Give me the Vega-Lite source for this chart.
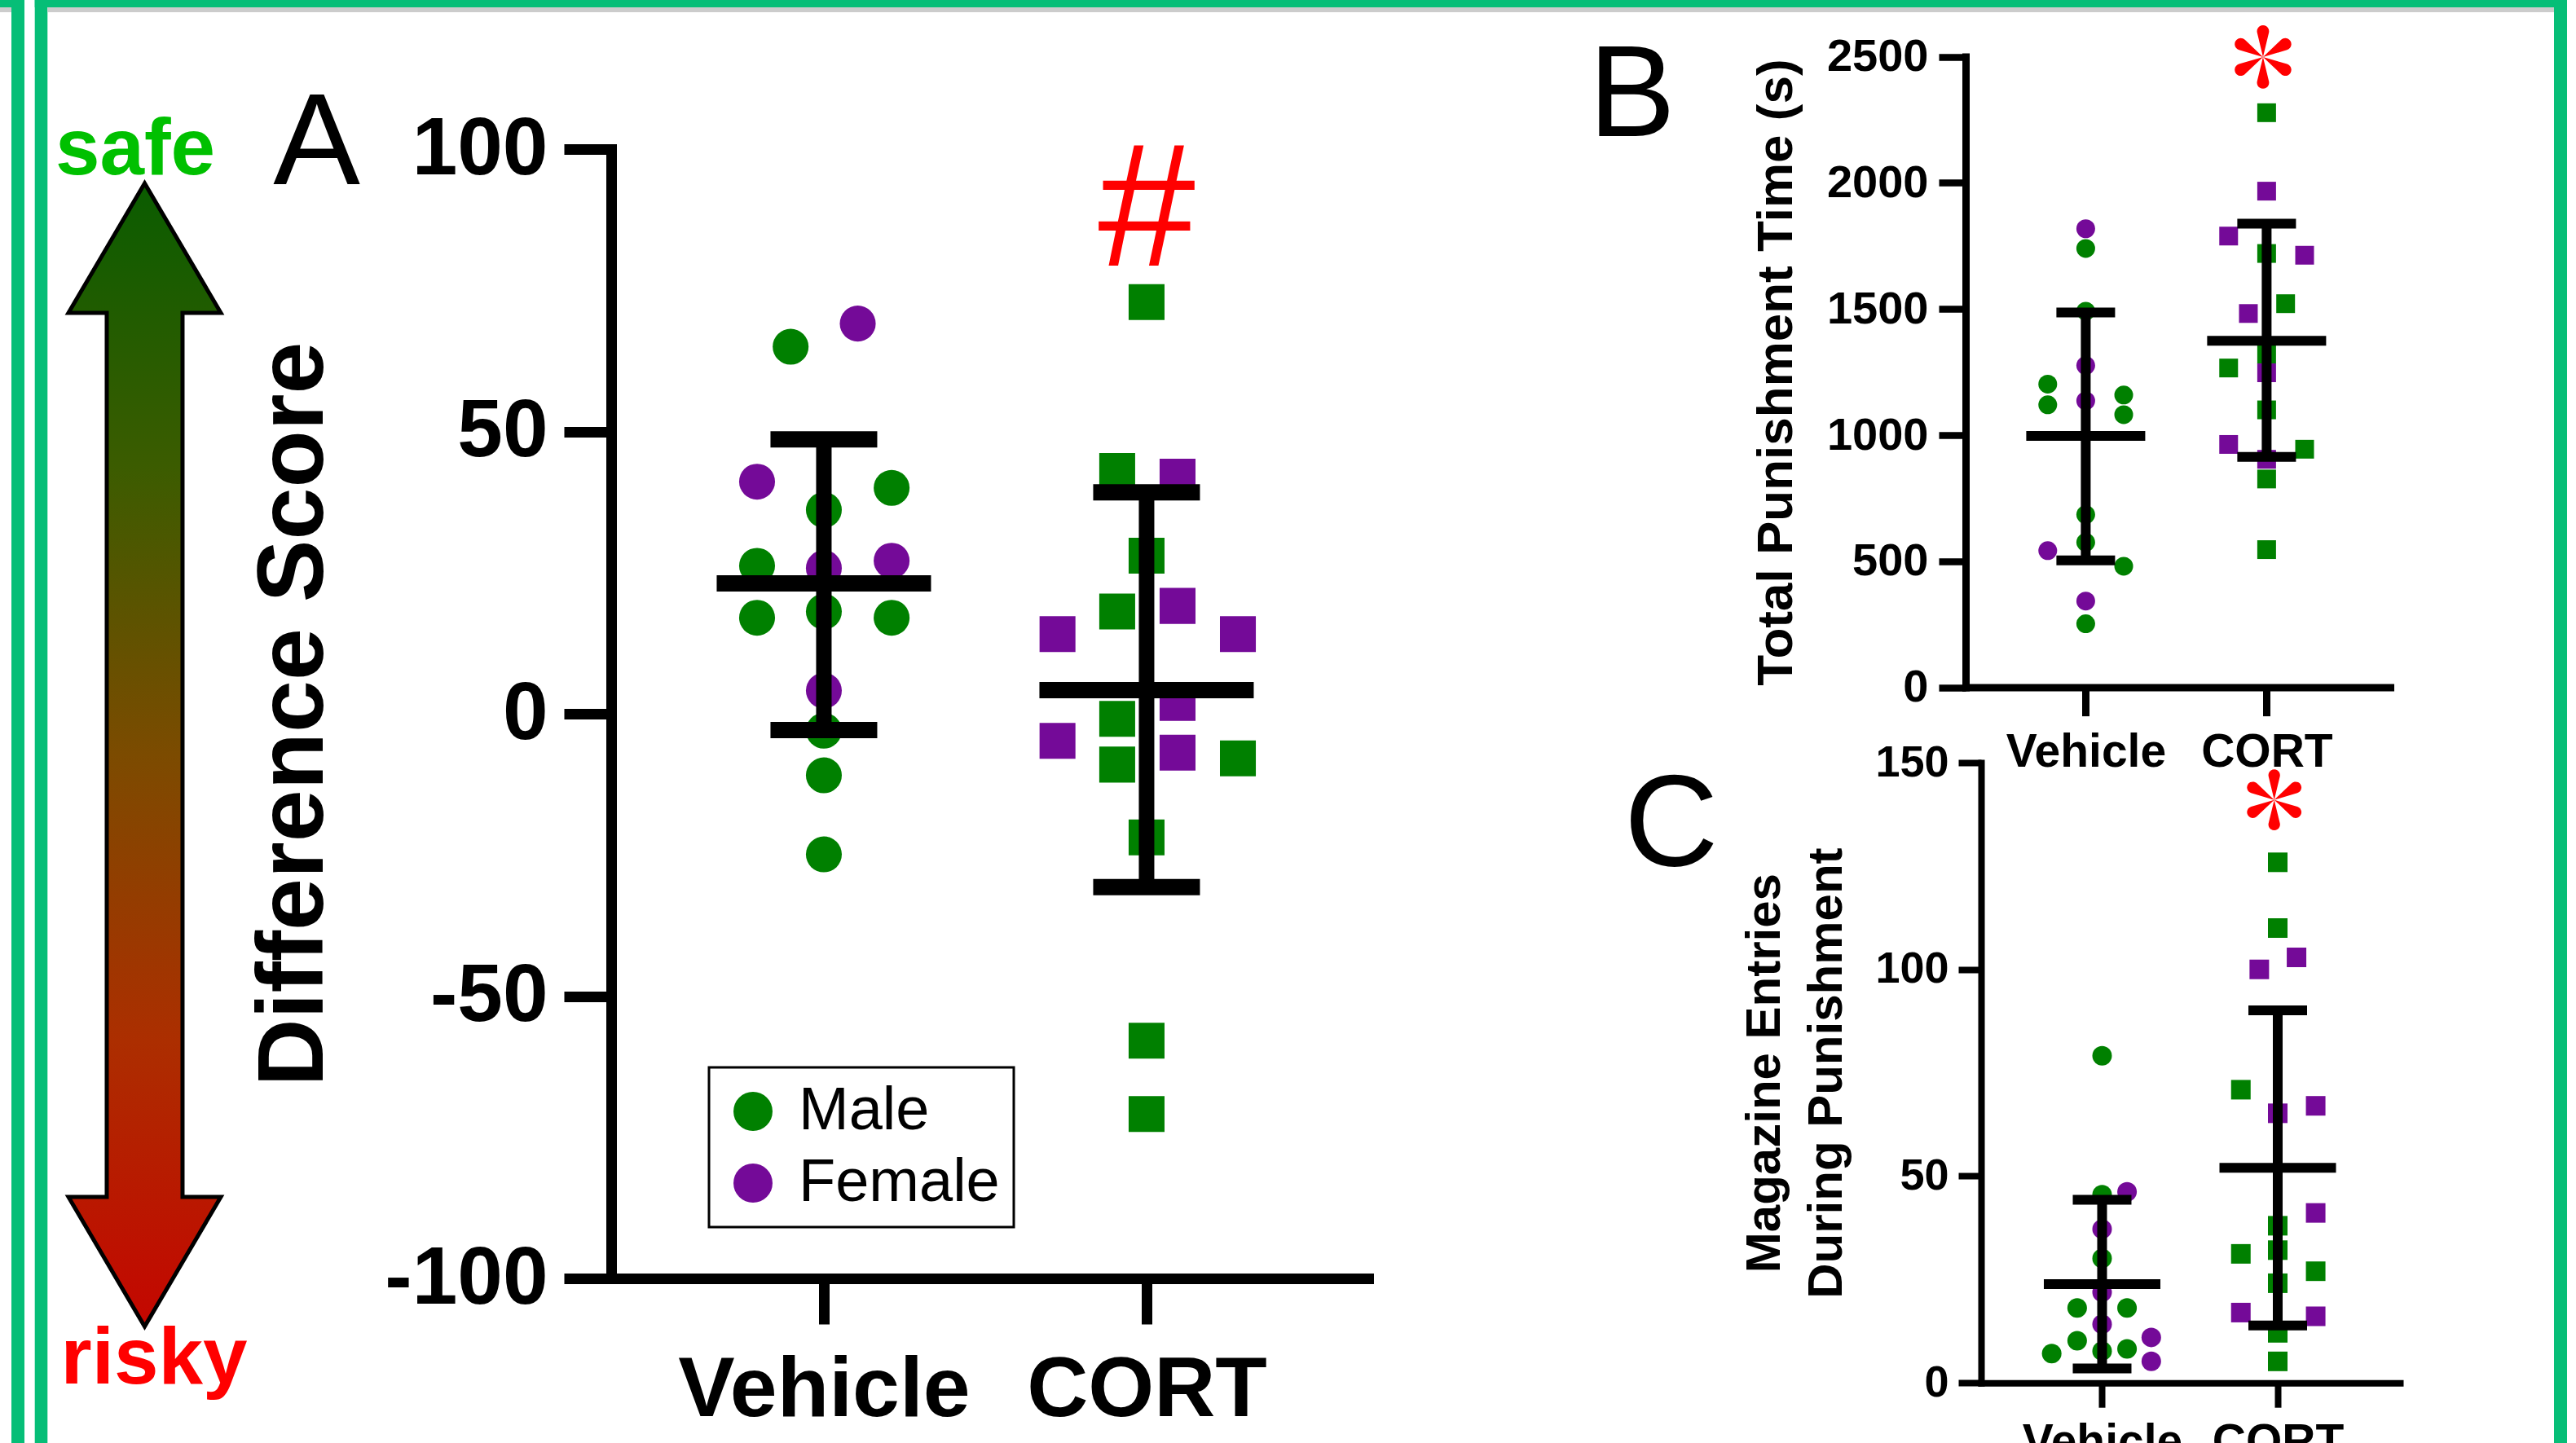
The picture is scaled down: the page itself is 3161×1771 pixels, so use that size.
{
  "$schema": "https://vega.github.io/schema/vega-lite/v6.json",
  "width": 3161,
  "height": 1771,
  "autosize": {"type": "none"},
  "padding": 0,
  "background": "white",
  "config": {
    "view": {"stroke": null},
    "axis": {"grid": false, "labelFont": "Liberation Sans", "titleFont": "Liberation Sans", "labelColor": "black", "titleColor": "black", "tickColor": "black", "domainColor": "black", "labelFlush": false, "labelOverlap": false, "labelLimit": 2000, "titleLimit": 3000, "maxExtent": 2000, "domainCap": "square"},
    "legend": {"strokeWidth": 3, "labelLimit": 2000},
    "text": {"font": "Liberation Sans"}
  },
  "datasets": {
    "pts": [
      {"panel": "A", "group": "Vehicle", "sex": "Male", "x": 0.897, "value": 65.0},
      {"panel": "A", "group": "Vehicle", "sex": "Female", "x": 1.105, "value": 69.1},
      {"panel": "A", "group": "Vehicle", "sex": "Female", "x": 0.793, "value": 41.1},
      {"panel": "A", "group": "Vehicle", "sex": "Male", "x": 1.21, "value": 40.0},
      {"panel": "A", "group": "Vehicle", "sex": "Male", "x": 1.0, "value": 36.1},
      {"panel": "A", "group": "Vehicle", "sex": "Male", "x": 0.793, "value": 26.2},
      {"panel": "A", "group": "Vehicle", "sex": "Female", "x": 1.0, "value": 25.8},
      {"panel": "A", "group": "Vehicle", "sex": "Female", "x": 1.21, "value": 27.1},
      {"panel": "A", "group": "Vehicle", "sex": "Male", "x": 0.793, "value": 17.0},
      {"panel": "A", "group": "Vehicle", "sex": "Male", "x": 1.0, "value": 18.1},
      {"panel": "A", "group": "Vehicle", "sex": "Male", "x": 1.21, "value": 17.0},
      {"panel": "A", "group": "Vehicle", "sex": "Female", "x": 1.0, "value": 4.1},
      {"panel": "A", "group": "Vehicle", "sex": "Male", "x": 1.0, "value": -3.0},
      {"panel": "A", "group": "Vehicle", "sex": "Male", "x": 1.0, "value": -10.9},
      {"panel": "A", "group": "Vehicle", "sex": "Male", "x": 1.0, "value": -24.9},
      {"panel": "A", "group": "CORT", "sex": "Male", "x": 2.0, "value": 72.9},
      {"panel": "A", "group": "CORT", "sex": "Male", "x": 1.909, "value": 43.0},
      {"panel": "A", "group": "CORT", "sex": "Female", "x": 2.096, "value": 42.0},
      {"panel": "A", "group": "CORT", "sex": "Male", "x": 2.0, "value": 28.0},
      {"panel": "A", "group": "CORT", "sex": "Male", "x": 1.909, "value": 18.1},
      {"panel": "A", "group": "CORT", "sex": "Female", "x": 2.096, "value": 19.1},
      {"panel": "A", "group": "CORT", "sex": "Female", "x": 1.724, "value": 14.1},
      {"panel": "A", "group": "CORT", "sex": "Female", "x": 2.283, "value": 14.1},
      {"panel": "A", "group": "CORT", "sex": "Male", "x": 1.909, "value": -0.9},
      {"panel": "A", "group": "CORT", "sex": "Female", "x": 2.096, "value": 1.9},
      {"panel": "A", "group": "CORT", "sex": "Female", "x": 1.724, "value": -4.8},
      {"panel": "A", "group": "CORT", "sex": "Male", "x": 1.909, "value": -9.0},
      {"panel": "A", "group": "CORT", "sex": "Female", "x": 2.096, "value": -6.9},
      {"panel": "A", "group": "CORT", "sex": "Male", "x": 2.283, "value": -7.9},
      {"panel": "A", "group": "CORT", "sex": "Male", "x": 2.0, "value": -21.9},
      {"panel": "A", "group": "CORT", "sex": "Male", "x": 2.0, "value": -57.9},
      {"panel": "A", "group": "CORT", "sex": "Male", "x": 2.0, "value": -70.9},

      {"panel": "B", "group": "Vehicle", "sex": "Female", "x": 1.0, "value": 1818},
      {"panel": "B", "group": "Vehicle", "sex": "Male", "x": 1.0, "value": 1740},
      {"panel": "B", "group": "Vehicle", "sex": "Male", "x": 1.0, "value": 1491},
      {"panel": "B", "group": "Vehicle", "sex": "Female", "x": 1.0, "value": 1276},
      {"panel": "B", "group": "Vehicle", "sex": "Male", "x": 0.79, "value": 1202},
      {"panel": "B", "group": "Vehicle", "sex": "Male", "x": 0.79, "value": 1120},
      {"panel": "B", "group": "Vehicle", "sex": "Female", "x": 1.0, "value": 1136},
      {"panel": "B", "group": "Vehicle", "sex": "Male", "x": 1.21, "value": 1159},
      {"panel": "B", "group": "Vehicle", "sex": "Male", "x": 1.21, "value": 1081},
      {"panel": "B", "group": "Vehicle", "sex": "Male", "x": 1.0, "value": 685},
      {"panel": "B", "group": "Vehicle", "sex": "Male", "x": 1.0, "value": 575},
      {"panel": "B", "group": "Vehicle", "sex": "Female", "x": 0.79, "value": 542},
      {"panel": "B", "group": "Vehicle", "sex": "Male", "x": 1.21, "value": 480},
      {"panel": "B", "group": "Vehicle", "sex": "Female", "x": 1.0, "value": 342},
      {"panel": "B", "group": "Vehicle", "sex": "Male", "x": 1.0, "value": 252},
      {"panel": "B", "group": "CORT", "sex": "Male", "x": 2.0, "value": 2278},
      {"panel": "B", "group": "CORT", "sex": "Female", "x": 2.0, "value": 1967},
      {"panel": "B", "group": "CORT", "sex": "Female", "x": 1.79, "value": 1789},
      {"panel": "B", "group": "CORT", "sex": "Male", "x": 2.0, "value": 1720},
      {"panel": "B", "group": "CORT", "sex": "Female", "x": 2.21, "value": 1713},
      {"panel": "B", "group": "CORT", "sex": "Male", "x": 2.105, "value": 1521},
      {"panel": "B", "group": "CORT", "sex": "Female", "x": 1.899, "value": 1482},
      {"panel": "B", "group": "CORT", "sex": "Male", "x": 2.0, "value": 1320},
      {"panel": "B", "group": "CORT", "sex": "Male", "x": 1.79, "value": 1266},
      {"panel": "B", "group": "CORT", "sex": "Female", "x": 2.0, "value": 1247},
      {"panel": "B", "group": "CORT", "sex": "Male", "x": 2.0, "value": 1100},
      {"panel": "B", "group": "CORT", "sex": "Female", "x": 1.79, "value": 963},
      {"panel": "B", "group": "CORT", "sex": "Male", "x": 2.21, "value": 944},
      {"panel": "B", "group": "CORT", "sex": "Female", "x": 2.0, "value": 904},
      {"panel": "B", "group": "CORT", "sex": "Male", "x": 2.0, "value": 826},
      {"panel": "B", "group": "CORT", "sex": "Male", "x": 2.0, "value": 546},

      {"panel": "C", "group": "Vehicle", "sex": "Male", "x": 1.0, "value": 79.1},
      {"panel": "C", "group": "Vehicle", "sex": "Male", "x": 1.0, "value": 45.5},
      {"panel": "C", "group": "Vehicle", "sex": "Female", "x": 1.142, "value": 46.2},
      {"panel": "C", "group": "Vehicle", "sex": "Female", "x": 1.0, "value": 37.2},
      {"panel": "C", "group": "Vehicle", "sex": "Male", "x": 1.0, "value": 30.1},
      {"panel": "C", "group": "Vehicle", "sex": "Female", "x": 1.0, "value": 21.9},
      {"panel": "C", "group": "Vehicle", "sex": "Male", "x": 0.858, "value": 18.1},
      {"panel": "C", "group": "Vehicle", "sex": "Male", "x": 1.142, "value": 18.1},
      {"panel": "C", "group": "Vehicle", "sex": "Female", "x": 1.0, "value": 14.2},
      {"panel": "C", "group": "Vehicle", "sex": "Male", "x": 0.858, "value": 10.2},
      {"panel": "C", "group": "Vehicle", "sex": "Female", "x": 1.28, "value": 11.0},
      {"panel": "C", "group": "Vehicle", "sex": "Male", "x": 0.713, "value": 7.1},
      {"panel": "C", "group": "Vehicle", "sex": "Male", "x": 1.0, "value": 7.7},
      {"panel": "C", "group": "Vehicle", "sex": "Male", "x": 1.142, "value": 8.2},
      {"panel": "C", "group": "Vehicle", "sex": "Female", "x": 1.28, "value": 5.2},
      {"panel": "C", "group": "CORT", "sex": "Male", "x": 2.0, "value": 125.9},
      {"panel": "C", "group": "CORT", "sex": "Male", "x": 2.0, "value": 110.0},
      {"panel": "C", "group": "CORT", "sex": "Female", "x": 2.107, "value": 102.9},
      {"panel": "C", "group": "CORT", "sex": "Female", "x": 1.895, "value": 100.0},
      {"panel": "C", "group": "CORT", "sex": "Male", "x": 1.79, "value": 70.9},
      {"panel": "C", "group": "CORT", "sex": "Female", "x": 2.216, "value": 67.0},
      {"panel": "C", "group": "CORT", "sex": "Female", "x": 2.0, "value": 65.2},
      {"panel": "C", "group": "CORT", "sex": "Female", "x": 2.216, "value": 41.1},
      {"panel": "C", "group": "CORT", "sex": "Male", "x": 2.0, "value": 38.0},
      {"panel": "C", "group": "CORT", "sex": "Male", "x": 1.79, "value": 31.2},
      {"panel": "C", "group": "CORT", "sex": "Male", "x": 2.0, "value": 32.1},
      {"panel": "C", "group": "CORT", "sex": "Male", "x": 2.216, "value": 27.0},
      {"panel": "C", "group": "CORT", "sex": "Male", "x": 2.0, "value": 24.1},
      {"panel": "C", "group": "CORT", "sex": "Female", "x": 1.79, "value": 17.0},
      {"panel": "C", "group": "CORT", "sex": "Female", "x": 2.216, "value": 16.1},
      {"panel": "C", "group": "CORT", "sex": "Male", "x": 2.0, "value": 12.1},
      {"panel": "C", "group": "CORT", "sex": "Male", "x": 2.0, "value": 5.2}
    ],
    "summ": [
      {"panel": "A", "group": "Vehicle", "gx": 1, "mean": 23.1, "lo": -2.9, "hi": 48.6},
      {"panel": "A", "group": "CORT", "gx": 2, "mean": 4.2, "lo": -30.7, "hi": 39.2},
      {"panel": "B", "group": "Vehicle", "gx": 1, "mean": 997, "lo": 503, "hi": 1486},
      {"panel": "B", "group": "CORT", "gx": 2, "mean": 1374, "lo": 914, "hi": 1838},
      {"panel": "C", "group": "Vehicle", "gx": 1, "mean": 23.9, "lo": 3.5, "hi": 44.3},
      {"panel": "C", "group": "CORT", "gx": 2, "mean": 52.0, "lo": 13.9, "hi": 90.1}
    ],
    "sig": [
      {"panel": "A", "gx": 2, "y": 79.4, "label": "#"},
      {"panel": "B", "gx": 1.98, "y": 2499, "label": "*"},
      {"panel": "C", "gx": 1.98, "y": 141.0, "label": "*"}
    ],
    "deco": [
      {"kind": "frame", "x": 0.443, "x2": 0.949, "y": 0, "y2": 100},
      {"kind": "frame", "x": 1.351, "x2": 1.844, "y": 0, "y2": 100},
      {"kind": "frame", "x": 99.146, "x2": 99.652, "y": 0, "y2": 100},
      {"kind": "frame", "x": 1.351, "x2": 99.652, "y": 0, "y2": 0.508},
      {"kind": "frame", "x": 0, "x2": 0.443, "y": 0, "y2": 0.508},
      {"kind": "shadow", "x": 1.844, "x2": 99.146, "y": 0.508, "y2": 0.847},
      {"kind": "shadow", "x": 0, "x2": 0.443, "y": 0.508, "y2": 0.847},
      {"kind": "arrow", "y": 12.705, "x": 5.615, "x2": 5.615},
      {"kind": "arrow", "y": 21.683, "x": 2.657, "x2": 8.573},
      {"kind": "arrow", "y": 21.684, "x": 4.144, "x2": 7.086},
      {"kind": "arrow", "y": 82.947, "x": 4.144, "x2": 7.086},
      {"kind": "arrow", "y": 82.948, "x": 2.657, "x2": 8.573},
      {"kind": "arrow", "y": 91.926, "x": 5.615, "x2": 5.615},
      {"kind": "safe", "x": 5.252, "y": 12.084, "label": "safe"},
      {"kind": "risky", "x": 5.979, "y": 95.878, "label": "risky"},
      {"kind": "letter", "x": 12.29, "y": 12.76, "label": "A"},
      {"kind": "letter", "x": 63.35, "y": 9.41, "label": "B"},
      {"kind": "letter", "x": 64.88, "y": 59.97, "label": "C"}
    ]
  },
  "resolve": {"scale": {"x": "independent", "y": "independent"}, "axis": {"x": "independent", "y": "independent"}},
  "layer": [
    {
      "data": {"name": "deco"},
      "layer": [
        {
          "transform": [{"filter": "datum.kind == 'frame'"}],
          "mark": {"type": "rect", "color": "#06BE77"},
          "encoding": {
            "x": {"field": "x", "type": "quantitative", "scale": {"domain": [0, 100], "range": [0, 3161], "nice": false, "zero": false}, "axis": null},
            "x2": {"field": "x2"},
            "y": {"field": "y", "type": "quantitative", "scale": {"domain": [0, 100], "range": [0, 1771], "nice": false, "zero": false}, "axis": null},
            "y2": {"field": "y2"}
          }
        },
        {
          "transform": [{"filter": "datum.kind == 'shadow'"}],
          "mark": {"type": "rect", "color": "#cccccc"},
          "encoding": {
            "x": {"field": "x", "type": "quantitative", "axis": null},
            "x2": {"field": "x2"},
            "y": {"field": "y", "type": "quantitative", "axis": null},
            "y2": {"field": "y2"}
          }
        },
        {
          "transform": [{"filter": "datum.kind == 'arrow'"}],
          "mark": {
            "type": "area", "orient": "horizontal", "interpolate": "linear", "stroke": "black", "strokeWidth": 5, "strokeJoin": "miter",
            "fill": {"gradient": "linear", "x1": 0, "y1": 0, "x2": 0, "y2": 1, "stops": [
              {"offset": 0, "color": "#0a5c00"},
              {"offset": 0.25, "color": "#3c5c00"},
              {"offset": 0.5, "color": "#7c4b00"},
              {"offset": 0.75, "color": "#ac2e00"},
              {"offset": 1, "color": "#c40600"}
            ]}
          },
          "encoding": {
            "y": {"field": "y", "type": "quantitative", "axis": null},
            "x": {"field": "x", "type": "quantitative", "axis": null, "stack": null},
            "x2": {"field": "x2"}
          }
        },
        {
          "transform": [{"filter": "datum.kind == 'safe'"}],
          "mark": {"type": "text", "color": "#00C000", "fontSize": 98, "fontWeight": "bold", "align": "center", "baseline": "alphabetic"},
          "encoding": {
            "x": {"field": "x", "type": "quantitative", "axis": null},
            "y": {"field": "y", "type": "quantitative", "axis": null},
            "text": {"field": "label"}
          }
        },
        {
          "transform": [{"filter": "datum.kind == 'risky'"}],
          "mark": {"type": "text", "color": "#FF0000", "fontSize": 98, "fontWeight": "bold", "align": "center", "baseline": "alphabetic"},
          "encoding": {
            "x": {"field": "x", "type": "quantitative", "axis": null},
            "y": {"field": "y", "type": "quantitative", "axis": null},
            "text": {"field": "label"}
          }
        },
        {
          "transform": [{"filter": "datum.kind == 'letter'"}],
          "mark": {"type": "text", "color": "black", "fontSize": 160, "fontWeight": "normal", "align": "center", "baseline": "alphabetic"},
          "encoding": {
            "x": {"field": "x", "type": "quantitative", "axis": null},
            "y": {"field": "y", "type": "quantitative", "axis": null},
            "text": {"field": "label"}
          }
        }
      ]
    },
    {
      "layer": [
        {
          "mark": {"type": "rule", "color": "black", "strokeWidth": 12.5, "strokeDash": [0.01, 41.5], "strokeCap": "round"},
          "encoding": {
            "x": {"datum": 0.4445, "type": "quantitative"},
            "x2": {"datum": 2.6466},
            "y": {"datum": 0, "type": "quantitative"}
          }
        },
        {
          "data": {"name": "pts"},
          "transform": [{"filter": "datum.panel == 'A'"}],
          "mark": {"type": "point", "filled": true, "opacity": 1, "size": 1940, "strokeWidth": 0},
          "encoding": {
            "x": {"field": "x", "type": "quantitative",
              "scale": {"domain": [0.341, 2.687], "range": [750, 1679], "nice": false, "zero": false},
              "axis": {"orient": "bottom", "offset": -202, "values": [1, 2], "labelExpr": "datum.value == 1 ? 'Vehicle' : 'CORT'", "labelFontSize": 104, "labelFontWeight": "bold", "labelPadding": 30, "tickSize": 56, "tickWidth": 13, "domainWidth": 13, "title": null}},
            "y": {"field": "value", "type": "quantitative",
              "scale": {"domain": [-100, 100], "range": [1569, 183], "nice": false, "zero": false},
              "axis": {"orient": "left", "offset": -750, "values": [-100, -50, 0, 50, 100], "labelExpr": "datum.value < 0 ? '-' + (-datum.value) : '' + datum.value", "labelFontSize": 100, "labelFontWeight": "bold", "labelPadding": 20, "tickSize": 58, "tickWidth": 13, "domainWidth": 13, "title": "Difference Score", "titleFontSize": 115, "titleFontWeight": "bold", "titlePadding": 52}},
            "color": {"field": "sex", "type": "nominal", "scale": {"domain": ["Male", "Female"], "range": ["#008000", "#740A98"]},
              "legend": {"orient": "none", "legendX": 870, "legendY": 1310, "title": null, "symbolType": "circle", "symbolSize": 2300, "symbolStrokeWidth": 0, "labelFont": "Liberation Sans", "labelFontSize": 74, "labelColor": "black", "labelOffset": 19, "labelLimit": 2000, "padding": 17, "rowPadding": 14, "strokeColor": "black"}},
            "shape": {"field": "group", "type": "nominal", "scale": {"domain": ["Vehicle", "CORT"], "range": ["circle", "square"]}, "legend": null}
          }
        },
        {
          "data": {"name": "summ"},
          "transform": [{"filter": "datum.panel == 'A'"}],
          "mark": {"type": "rule", "color": "black", "strokeWidth": 19},
          "encoding": {
            "x": {"field": "gx", "type": "quantitative"},
            "y": {"field": "lo", "type": "quantitative"},
            "y2": {"field": "hi"}
          }
        },
        {
          "data": {"name": "summ"},
          "transform": [{"filter": "datum.panel == 'A'"}],
          "mark": {"type": "tick", "orient": "horizontal", "color": "black", "opacity": 1, "size": 263, "thickness": 20},
          "encoding": {
            "x": {"field": "gx", "type": "quantitative"},
            "y": {"field": "mean", "type": "quantitative"}
          }
        },
        {
          "data": {"name": "summ"},
          "transform": [{"filter": "datum.panel == 'A'"}],
          "mark": {"type": "tick", "orient": "horizontal", "color": "black", "opacity": 1, "size": 131, "thickness": 20},
          "encoding": {
            "x": {"field": "gx", "type": "quantitative"},
            "y": {"field": "hi", "type": "quantitative"}
          }
        },
        {
          "data": {"name": "summ"},
          "transform": [{"filter": "datum.panel == 'A'"}],
          "mark": {"type": "tick", "orient": "horizontal", "color": "black", "opacity": 1, "size": 131, "thickness": 20},
          "encoding": {
            "x": {"field": "gx", "type": "quantitative"},
            "y": {"field": "lo", "type": "quantitative"}
          }
        },
        {
          "data": {"name": "sig"},
          "transform": [{"filter": "datum.panel == 'A'"}],
          "mark": {"type": "text", "color": "#FF0000", "font": "Liberation Sans", "fontSize": 215, "align": "center", "baseline": "alphabetic"},
          "encoding": {
            "x": {"field": "gx", "type": "quantitative"},
            "y": {"field": "y", "type": "quantitative"},
            "text": {"field": "label"}
          }
        }
      ]
    },
    {
      "layer": [
        {
          "data": {"name": "pts"},
          "transform": [{"filter": "datum.panel == 'B'"}],
          "mark": {"type": "point", "filled": true, "opacity": 1, "size": 529, "strokeWidth": 0},
          "encoding": {
            "x": {"field": "x", "type": "quantitative",
              "scale": {"domain": [0.336, 2.683], "range": [2412, 2933], "nice": false, "zero": false},
              "axis": {"orient": "bottom", "offset": -927.4, "values": [1, 2], "labelExpr": "datum.value == 1 ? 'Vehicle' : 'CORT'", "labelFontSize": 57, "labelFontWeight": "bold", "labelPadding": 17, "tickSize": 35, "tickWidth": 9, "domainWidth": 9, "title": null}},
            "y": {"field": "value", "type": "quantitative",
              "scale": {"domain": [0, 2500], "range": [843.6, 69.6], "nice": false, "zero": false},
              "axis": {"orient": "left", "offset": -2412, "values": [0, 500, 1000, 1500, 2000, 2500], "format": "d", "labelFontSize": 56, "labelFontWeight": "bold", "labelPadding": 13, "tickSize": 33, "tickWidth": 8.5, "domainWidth": 9, "title": "Total Punishment Time (s)", "titleFontSize": 62, "titleFontWeight": "bold", "titlePadding": 30}},
            "color": {"field": "sex", "type": "nominal", "scale": {"domain": ["Male", "Female"], "range": ["#008000", "#740A98"]},
              "legend": {"orient": "none", "legendX": 870, "legendY": 1310, "title": null, "symbolType": "circle", "symbolSize": 2300, "symbolStrokeWidth": 0, "labelFont": "Liberation Sans", "labelFontSize": 74, "labelColor": "black", "labelOffset": 19, "labelLimit": 2000, "padding": 17, "rowPadding": 14, "strokeColor": "black"}},
            "shape": {"field": "group", "type": "nominal", "scale": {"domain": ["Vehicle", "CORT"], "range": ["circle", "square"]}, "legend": null}
          }
        },
        {
          "data": {"name": "summ"},
          "transform": [{"filter": "datum.panel == 'B'"}],
          "mark": {"type": "rule", "color": "black", "strokeWidth": 12},
          "encoding": {
            "x": {"field": "gx", "type": "quantitative"},
            "y": {"field": "lo", "type": "quantitative"},
            "y2": {"field": "hi"}
          }
        },
        {
          "data": {"name": "summ"},
          "transform": [{"filter": "datum.panel == 'B'"}],
          "mark": {"type": "tick", "orient": "horizontal", "color": "black", "opacity": 1, "size": 146, "thickness": 12},
          "encoding": {
            "x": {"field": "gx", "type": "quantitative"},
            "y": {"field": "mean", "type": "quantitative"}
          }
        },
        {
          "data": {"name": "summ"},
          "transform": [{"filter": "datum.panel == 'B'"}],
          "mark": {"type": "tick", "orient": "horizontal", "color": "black", "opacity": 1, "size": 72, "thickness": 12},
          "encoding": {
            "x": {"field": "gx", "type": "quantitative"},
            "y": {"field": "hi", "type": "quantitative"}
          }
        },
        {
          "data": {"name": "summ"},
          "transform": [{"filter": "datum.panel == 'B'"}],
          "mark": {"type": "tick", "orient": "horizontal", "color": "black", "opacity": 1, "size": 72, "thickness": 12},
          "encoding": {
            "x": {"field": "gx", "type": "quantitative"},
            "y": {"field": "lo", "type": "quantitative"}
          }
        },
        {
          "data": {"name": "sig"},
          "transform": [{"filter": "datum.panel == 'B'"}],
          "mark": {"type": "point", "filled": true, "opacity": 1, "color": "#FF0000", "strokeWidth": 0, "size": 6084,
            "shape": "M0,0L-0.185,-0.765A0.19,0.19,0,1,1,0.185,-0.765Z M0,0L0.57,-0.5425A0.19,0.19,0,1,1,0.755,-0.2225Z M0,0L0.755,0.2225A0.19,0.19,0,1,1,0.57,0.5425Z M0,0L0.185,0.765A0.19,0.19,0,1,1,-0.185,0.765Z M0,0L-0.57,0.5425A0.19,0.19,0,1,1,-0.755,0.2225Z M0,0L-0.755,-0.2225A0.19,0.19,0,1,1,-0.57,-0.5425Z"},
          "encoding": {
            "x": {"field": "gx", "type": "quantitative"},
            "y": {"field": "y", "type": "quantitative"}
          }
        }
      ]
    },
    {
      "layer": [
        {
          "data": {"name": "pts"},
          "transform": [{"filter": "datum.panel == 'C'"}],
          "mark": {"type": "point", "filled": true, "opacity": 1, "size": 576, "strokeWidth": 0},
          "encoding": {
            "x": {"field": "x", "type": "quantitative",
              "scale": {"domain": [0.311, 2.696], "range": [2431, 2945], "nice": false, "zero": false},
              "axis": {"orient": "bottom", "offset": -73.8, "values": [1, 2], "labelExpr": "datum.value == 1 ? 'Vehicle' : 'CORT'", "labelFontSize": 57, "labelFontWeight": "bold", "labelPadding": 15, "tickSize": 30, "tickWidth": 8, "domainWidth": 8, "title": null}},
            "y": {"field": "value", "type": "quantitative",
              "scale": {"domain": [0, 150], "range": [1697.2, 936], "nice": false, "zero": false},
              "axis": {"orient": "left", "offset": -2431, "values": [0, 50, 100, 150], "format": "d", "labelFontSize": 54, "labelFontWeight": "bold", "labelPadding": 12, "tickSize": 28, "tickWidth": 8, "domainWidth": 8, "title": ["Magazine Entries", "During Punishment"], "titleFontSize": 60, "titleLineHeight": 76, "titleFontWeight": "bold", "titlePadding": 28}},
            "color": {"field": "sex", "type": "nominal", "scale": {"domain": ["Male", "Female"], "range": ["#008000", "#740A98"]},
              "legend": {"orient": "none", "legendX": 870, "legendY": 1310, "title": null, "symbolType": "circle", "symbolSize": 2300, "symbolStrokeWidth": 0, "labelFont": "Liberation Sans", "labelFontSize": 74, "labelColor": "black", "labelOffset": 19, "labelLimit": 2000, "padding": 17, "rowPadding": 14, "strokeColor": "black"}},
            "shape": {"field": "group", "type": "nominal", "scale": {"domain": ["Vehicle", "CORT"], "range": ["circle", "square"]}, "legend": null}
          }
        },
        {
          "data": {"name": "summ"},
          "transform": [{"filter": "datum.panel == 'C'"}],
          "mark": {"type": "rule", "color": "black", "strokeWidth": 12},
          "encoding": {
            "x": {"field": "gx", "type": "quantitative"},
            "y": {"field": "lo", "type": "quantitative"},
            "y2": {"field": "hi"}
          }
        },
        {
          "data": {"name": "summ"},
          "transform": [{"filter": "datum.panel == 'C'"}],
          "mark": {"type": "tick", "orient": "horizontal", "color": "black", "opacity": 1, "size": 143, "thickness": 12},
          "encoding": {
            "x": {"field": "gx", "type": "quantitative"},
            "y": {"field": "mean", "type": "quantitative"}
          }
        },
        {
          "data": {"name": "summ"},
          "transform": [{"filter": "datum.panel == 'C'"}],
          "mark": {"type": "tick", "orient": "horizontal", "color": "black", "opacity": 1, "size": 72, "thickness": 12},
          "encoding": {
            "x": {"field": "gx", "type": "quantitative"},
            "y": {"field": "hi", "type": "quantitative"}
          }
        },
        {
          "data": {"name": "summ"},
          "transform": [{"filter": "datum.panel == 'C'"}],
          "mark": {"type": "tick", "orient": "horizontal", "color": "black", "opacity": 1, "size": 72, "thickness": 12},
          "encoding": {
            "x": {"field": "gx", "type": "quantitative"},
            "y": {"field": "lo", "type": "quantitative"}
          }
        },
        {
          "data": {"name": "sig"},
          "transform": [{"filter": "datum.panel == 'C'"}],
          "mark": {"type": "point", "filled": true, "opacity": 1, "color": "#FF0000", "strokeWidth": 0, "size": 5625,
            "shape": "M0,0L-0.185,-0.765A0.19,0.19,0,1,1,0.185,-0.765Z M0,0L0.57,-0.5425A0.19,0.19,0,1,1,0.755,-0.2225Z M0,0L0.755,0.2225A0.19,0.19,0,1,1,0.57,0.5425Z M0,0L0.185,0.765A0.19,0.19,0,1,1,-0.185,0.765Z M0,0L-0.57,0.5425A0.19,0.19,0,1,1,-0.755,0.2225Z M0,0L-0.755,-0.2225A0.19,0.19,0,1,1,-0.57,-0.5425Z"},
          "encoding": {
            "x": {"field": "gx", "type": "quantitative"},
            "y": {"field": "y", "type": "quantitative"}
          }
        }
      ]
    }
  ]
}
